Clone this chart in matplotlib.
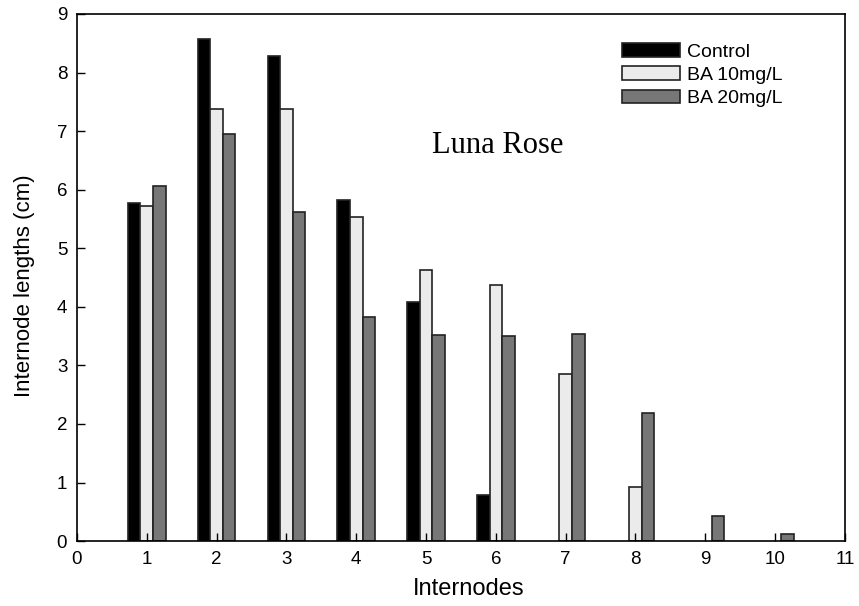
import numpy as np
import matplotlib.pyplot as plt

internodes = np.arange(1, 11)
control = [5.77, 8.57, 8.28, 5.82, 4.08, 0.78, 0, 0, 0, 0]
ba_10 = [5.72, 7.38, 7.38, 5.53, 4.63, 4.38, 2.85, 0.93, 0, 0]
ba_20 = [6.07, 6.95, 5.62, 3.82, 3.52, 3.50, 3.53, 2.18, 0.43, 0.13]

fig = plt.figure(figsize=(8.59, 6.06), dpi=100)
ax = fig.add_axes([0.0896, 0.107, 0.894, 0.870])

w = 0.18
edge = '#222222'
series = [(control, 'black', 'Control', -w),
          (ba_10, '#ebebeb', 'BA 10mg/L', 0),
          (ba_20, '#777777', 'BA 20mg/L', w)]
for vals, col, lab, off in series:
    vals = np.array(vals)
    keep = vals > 0
    ax.bar(internodes[keep] + off, vals[keep], width=w, color=col,
           edgecolor=edge, linewidth=1.2, label=lab)

ax.set_xlim(0, 11)
ax.set_ylim(0, 9)
ax.set_xticks(range(0, 12))
ax.set_yticks(range(0, 10))
ax.tick_params(labelsize=13.5, length=6, width=1, direction='in', pad=7)
for t in ax.get_xticklabels() + ax.get_yticklabels():
    t.set_family('Liberation Sans')
for s in ax.spines.values():
    s.set_linewidth(1.2)

ax.set_xlabel('Internodes', fontsize=17, family='Liberation Sans')
ax.set_ylabel('Internode lengths (cm)', fontsize=16, family='Liberation Sans')
ax.xaxis.set_label_coords(0.51, -0.07)
ax.yaxis.set_label_coords(-0.055, 0.485)

ax.text(6.02, 6.75, 'Luna Rose', fontsize=22, family='Liberation Serif',
        ha='center', va='center')

ax.legend(loc='upper left', bbox_to_anchor=(0.7096, 0.945), frameon=False,
          borderpad=0, borderaxespad=0,
          prop={'family': 'Liberation Sans', 'size': 14},
          handlelength=3.0, handleheight=0.7, labelspacing=0.3, handletextpad=0.35)

fig.savefig('out.png', dpi=100)
